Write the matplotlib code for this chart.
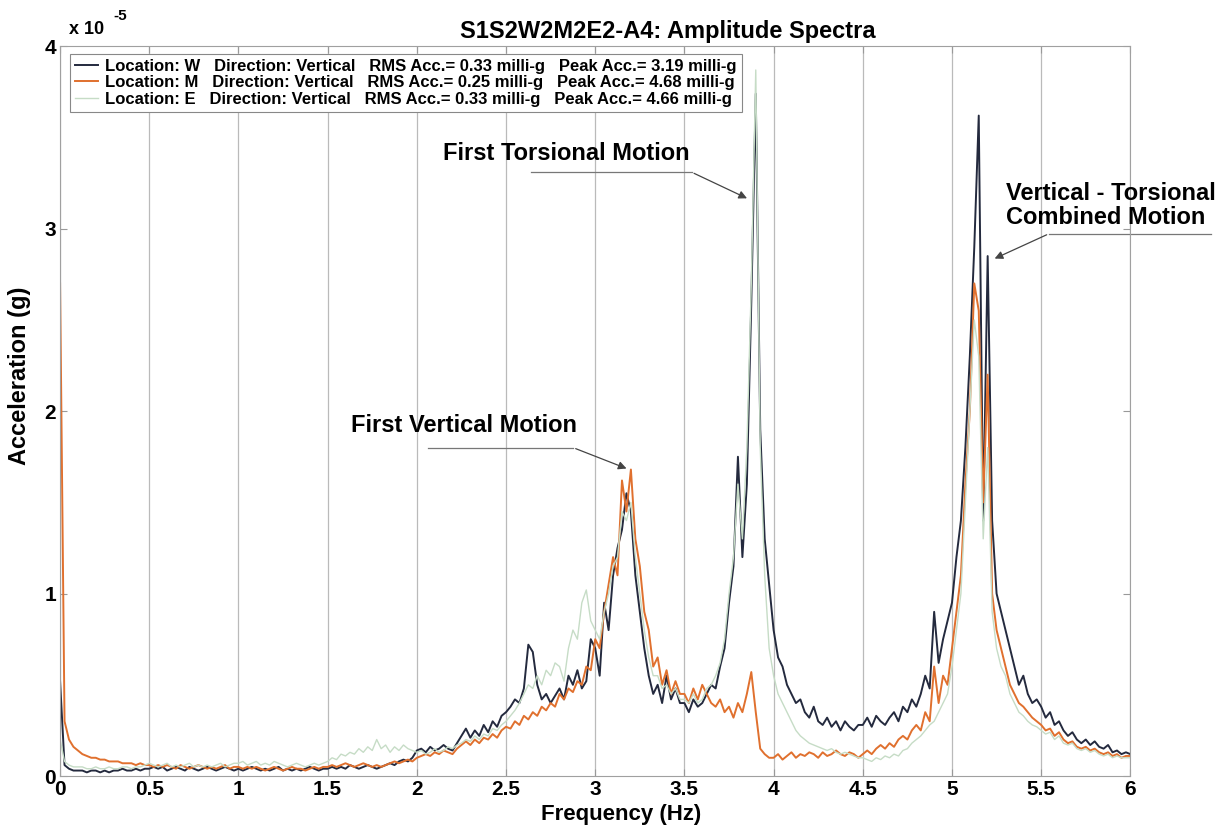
import numpy as np
import matplotlib
matplotlib.use("Agg")
import matplotlib.pyplot as plt

plt.rcParams['font.family'] = ['Liberation Sans', 'DejaVu Sans']
plt.rcParams['font.weight'] = 'bold'

# frequency grid (Hz), 0.025 Hz step
freq = np.arange(241) * 0.025

# amplitude values in units of 1e-5 g, 20 values per 0.5 Hz
W = [0.52, 0.06, 0.04, 0.03, 0.03, 0.03, 0.02, 0.03, 0.03, 0.02, 0.03, 0.02, 0.03, 0.03, 0.04, 0.03, 0.03, 0.04, 0.03, 0.04,
     0.04, 0.05, 0.04, 0.05, 0.03, 0.04, 0.05, 0.04, 0.03, 0.05, 0.04, 0.03, 0.04, 0.05, 0.04, 0.03, 0.04, 0.05, 0.04, 0.03,
     0.04, 0.03, 0.04, 0.05, 0.04, 0.03, 0.04, 0.03, 0.04, 0.05, 0.03, 0.04, 0.03, 0.04, 0.03, 0.04, 0.05, 0.04, 0.03, 0.04,
     0.04, 0.05, 0.04, 0.05, 0.04, 0.06, 0.05, 0.04, 0.05, 0.06, 0.05, 0.04, 0.05, 0.06, 0.07, 0.06, 0.08, 0.09, 0.08, 0.10,
     0.14, 0.15, 0.13, 0.16, 0.14, 0.15, 0.17, 0.15, 0.14, 0.18, 0.22, 0.26, 0.21, 0.25, 0.22, 0.28, 0.24, 0.30, 0.27, 0.33,
     0.35, 0.38, 0.42, 0.40, 0.48, 0.72, 0.68, 0.50, 0.42, 0.45, 0.40, 0.44, 0.48, 0.42, 0.55, 0.50, 0.58, 0.48, 0.52, 0.75,
     0.70, 0.55, 0.95, 0.80, 1.10, 1.25, 1.35, 1.55, 1.45, 1.10, 0.90, 0.70, 0.55, 0.45, 0.50, 0.40, 0.55, 0.42, 0.48, 0.40,
     0.40, 0.35, 0.42, 0.38, 0.40, 0.45, 0.50, 0.48, 0.60, 0.70, 0.95, 1.15, 1.75, 1.20, 1.60, 2.60, 3.74, 1.90, 1.30, 1.05,
     0.80, 0.65, 0.60, 0.50, 0.45, 0.40, 0.42, 0.35, 0.32, 0.38, 0.30, 0.28, 0.32, 0.27, 0.30, 0.25, 0.30, 0.27, 0.25, 0.28,
     0.28, 0.32, 0.27, 0.33, 0.30, 0.28, 0.32, 0.35, 0.30, 0.38, 0.35, 0.42, 0.38, 0.45, 0.55, 0.48, 0.90, 0.62, 0.75, 0.85,
     0.95, 1.20, 1.40, 1.80, 2.30, 2.90, 3.62, 1.40, 2.85, 1.40, 1.00, 0.90, 0.80, 0.70, 0.60, 0.50, 0.55, 0.45, 0.40, 0.42,
     0.38, 0.32, 0.35, 0.28, 0.30, 0.25, 0.22, 0.24, 0.20, 0.18, 0.20, 0.17, 0.19, 0.16, 0.15, 0.17, 0.13, 0.14, 0.12, 0.13,
     0.12]
M = [2.70, 0.30, 0.20, 0.16, 0.14, 0.12, 0.11, 0.10, 0.10, 0.09, 0.09, 0.08, 0.08, 0.08, 0.07, 0.07, 0.07, 0.06, 0.07, 0.06,
     0.06, 0.05, 0.06, 0.05, 0.06, 0.05, 0.04, 0.06, 0.05, 0.04, 0.05, 0.06, 0.05, 0.04, 0.05, 0.04, 0.05, 0.06, 0.04, 0.05,
     0.05, 0.04, 0.05, 0.04, 0.05, 0.04, 0.03, 0.04, 0.05, 0.04, 0.03, 0.04, 0.05, 0.04, 0.04, 0.03, 0.04, 0.05, 0.04, 0.05,
     0.05, 0.06, 0.05, 0.06, 0.07, 0.06, 0.05, 0.06, 0.07, 0.06, 0.05, 0.06, 0.05, 0.06, 0.07, 0.08, 0.07, 0.08, 0.09, 0.08,
     0.10, 0.11, 0.12, 0.11, 0.13, 0.12, 0.14, 0.13, 0.12, 0.15, 0.17, 0.19, 0.17, 0.20, 0.18, 0.21, 0.20, 0.23, 0.21, 0.25,
     0.27, 0.26, 0.30, 0.28, 0.33, 0.31, 0.35, 0.33, 0.38, 0.36, 0.40, 0.38, 0.45, 0.42, 0.48, 0.46, 0.52, 0.50, 0.60, 0.58,
     0.75, 0.70, 0.90, 1.05, 1.20, 1.10, 1.62, 1.45, 1.68, 1.30, 1.15, 0.90, 0.80, 0.60, 0.65, 0.50, 0.58, 0.45, 0.52, 0.45,
     0.45, 0.40, 0.48, 0.42, 0.50, 0.45, 0.40, 0.38, 0.42, 0.35, 0.38, 0.32, 0.40, 0.35, 0.45, 0.57, 0.35, 0.15, 0.12, 0.10,
     0.10, 0.12, 0.09, 0.11, 0.13, 0.10, 0.12, 0.11, 0.13, 0.12, 0.10, 0.13, 0.11, 0.12, 0.14, 0.12, 0.11, 0.13, 0.12, 0.10,
     0.12, 0.14, 0.12, 0.15, 0.17, 0.15, 0.18, 0.16, 0.20, 0.22, 0.20, 0.25, 0.28, 0.25, 0.35, 0.30, 0.60, 0.40, 0.55, 0.50,
     0.70, 0.90, 1.10, 1.60, 2.00, 2.70, 2.55, 1.50, 2.20, 1.00, 0.80, 0.70, 0.60, 0.50, 0.45, 0.40, 0.38, 0.35, 0.32, 0.30,
     0.28, 0.25, 0.26, 0.22, 0.24, 0.20, 0.18, 0.19, 0.16, 0.15, 0.16, 0.14, 0.15, 0.13, 0.12, 0.13, 0.11, 0.12, 0.10, 0.11,
     0.11]
E = [0.20, 0.08, 0.06, 0.05, 0.05, 0.05, 0.04, 0.04, 0.05, 0.04, 0.04, 0.05, 0.04, 0.04, 0.05, 0.05, 0.04, 0.05, 0.05, 0.06,
     0.07, 0.06, 0.05, 0.06, 0.07, 0.05, 0.06, 0.05, 0.06, 0.07, 0.05, 0.06, 0.05, 0.06, 0.05, 0.06, 0.07, 0.05, 0.06, 0.07,
     0.07, 0.08, 0.06, 0.07, 0.08, 0.06, 0.07, 0.06, 0.08, 0.07, 0.06, 0.05, 0.06, 0.07, 0.06, 0.05, 0.06, 0.07, 0.06, 0.07,
     0.08, 0.10, 0.09, 0.12, 0.11, 0.13, 0.12, 0.15, 0.13, 0.16, 0.14, 0.20, 0.15, 0.17, 0.13, 0.16, 0.14, 0.17, 0.15, 0.14,
     0.13, 0.14, 0.12, 0.13, 0.15, 0.13, 0.14, 0.16, 0.15, 0.17, 0.18, 0.20, 0.19, 0.22, 0.20, 0.23, 0.22, 0.26, 0.25, 0.28,
     0.30, 0.33, 0.36, 0.40, 0.45, 0.50, 0.48, 0.55, 0.50, 0.58, 0.55, 0.62, 0.60, 0.52, 0.70, 0.80, 0.75, 0.95, 1.02, 0.85,
     0.80, 0.75, 0.90, 1.00, 1.15, 1.20, 1.45, 1.40, 1.50, 1.20, 1.00, 0.80, 0.65, 0.55, 0.55, 0.48, 0.50, 0.45, 0.48, 0.42,
     0.42, 0.40, 0.45, 0.40, 0.42, 0.48, 0.50, 0.55, 0.62, 0.75, 1.00, 1.20, 1.60, 1.30, 1.80, 2.70, 3.87, 1.80, 1.10, 0.70,
     0.55, 0.45, 0.40, 0.35, 0.30, 0.25, 0.22, 0.20, 0.18, 0.17, 0.16, 0.15, 0.14, 0.15, 0.13, 0.12, 0.13, 0.12, 0.11, 0.10,
     0.10, 0.09, 0.08, 0.10, 0.09, 0.11, 0.10, 0.12, 0.11, 0.14, 0.15, 0.18, 0.20, 0.22, 0.25, 0.28, 0.30, 0.35, 0.40, 0.45,
     0.60, 0.80, 1.00, 1.50, 2.00, 2.50, 2.30, 1.30, 1.80, 0.90, 0.70, 0.60, 0.55, 0.45, 0.40, 0.35, 0.33, 0.30, 0.28, 0.27,
     0.25, 0.23, 0.24, 0.20, 0.22, 0.18, 0.17, 0.18, 0.15, 0.14, 0.15, 0.13, 0.14, 0.12, 0.11, 0.12, 0.10, 0.11, 0.10, 0.10,
     0.10]

labels = ['Location: W   Direction: Vertical   RMS Acc.= 0.33 milli-g   Peak Acc.= 3.19 milli-g',
          'Location: M   Direction: Vertical   RMS Acc.= 0.25 milli-g   Peak Acc.= 4.68 milli-g',
          'Location: E   Direction: Vertical   RMS Acc.= 0.33 milli-g   Peak Acc.= 4.66 milli-g']
colors = ['#242a3e', '#e0702e', '#c6dcc6']
widths = [1.4, 1.4, 1.0]

fig = plt.figure(figsize=(12.26, 8.26), dpi=100)
ax = fig.add_axes([0.049, 0.0605, 0.873, 0.8835])

for vals, lab, c, lw in zip([W, M, E], labels, colors, widths):
    ax.plot(freq, vals, color=c, lw=lw, label=lab)

ax.set_xlim(0, 6)
ax.set_ylim(0, 4)
ax.set_xticks(np.arange(0, 6.01, 0.5))
ax.set_xticklabels(['0', '0.5', '1', '1.5', '2', '2.5', '3', '3.5', '4', '4.5', '5', '5.5', '6'])
ax.set_yticks([0, 1, 2, 3, 4])
ax.tick_params(direction='in', top=True, right=True, labelsize=15, length=5, color='#999999', pad=3)
for t in ax.get_xticklabels() + ax.get_yticklabels():
    t.set_fontweight('bold')
ax.grid(axis='x', color='#bababa', lw=0.9)
for s in ax.spines.values():
    s.set_color('#a0a0a0')

ax.set_xlabel('Frequency (Hz)', fontsize=16, fontweight='bold')
ax.xaxis.set_label_coords(0.524, -0.038)
ax.xaxis.label.set_va('top')
ax.set_ylabel('Acceleration (g)', fontsize=17, fontweight='bold')
ax.yaxis.set_label_coords(-0.027, 0.548)
ax.set_title('S1S2W2M2E2-A4: Amplitude Spectra', fontsize=17, fontweight='bold', pad=6, x=0.568)
ax.text(0.008, 1.017, 'x 10', transform=ax.transAxes, fontsize=13, fontweight='bold')
ax.text(0.050, 1.036, '-5', transform=ax.transAxes, fontsize=11, fontweight='bold')

leg = ax.legend(loc='upper left', bbox_to_anchor=(0.0093, 0.99), borderaxespad=0, handlelength=1.4,
                borderpad=0.3, labelspacing=0.1, handletextpad=0.4, fancybox=False,
                edgecolor='#888888', framealpha=1,
                prop={'family': ['Liberation Sans Narrow', 'Liberation Sans'], 'weight': 'bold', 'size': 12})
leg.get_frame().set_linewidth(0.8)

# annotations: underline + arrow to the peak
notes = [
    ('First Vertical Motion', (2.264, 1.86), (2.06, 2.876, 1.80), (3.19, 1.68)),
    ('First Torsional Motion', (2.84, 3.35), (2.64, 3.54, 3.31), (3.865, 3.16)),
]
for txt, tpos, (x0, x1, yl), tip in notes:
    ax.text(tpos[0], tpos[1], txt, ha='center', va='bottom', fontsize=17, fontweight='bold')
    ax.plot([x0, x1], [yl, yl], color='#777777', lw=0.9)
    ax.annotate('', xy=tip, xytext=(x1, yl),
                arrowprops=dict(arrowstyle='-|>', color='#444444', lw=0.9, mutation_scale=12))

ax.text(5.30, 3.0, 'Vertical - Torsional\nCombined Motion', ha='left', va='bottom', fontsize=17,
        fontweight='bold', linespacing=1.05, clip_on=False)
ax.plot([5.545, 6.45], [2.973, 2.973], color='#777777', lw=0.9, clip_on=False)
ax.annotate('', xy=(5.225, 2.83), xytext=(5.545, 2.973),
            arrowprops=dict(arrowstyle='-|>', color='#444444', lw=0.9, mutation_scale=12))

fig.savefig('out.png', dpi=100)
